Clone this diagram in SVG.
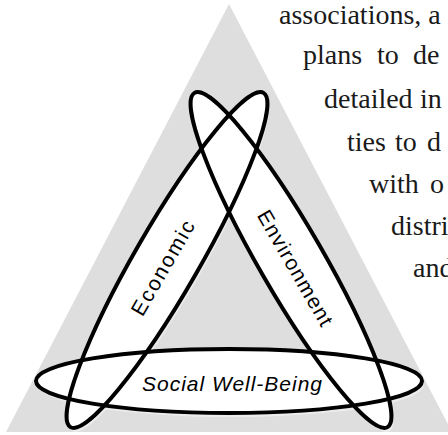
<svg xmlns="http://www.w3.org/2000/svg" width="448" height="435" viewBox="0 0 448 435">
<style>
.body{font-family:"Liberation Serif","Times New Roman",serif;font-size:28px;fill:#1a1a1a}
.lbl{font-family:"Liberation Sans",Arial,sans-serif;font-size:21px;fill:#000}
.it{font-style:italic}
.fillE{fill:#fff;stroke:none}
.shade{fill:#ececec;stroke:none}
.ring{fill:none;stroke:#000;stroke-width:4}
</style>
<defs>
<ellipse id="el" cx="0" cy="0" rx="193" ry="32"/>
</defs>
<rect width="448" height="435" fill="#fff"/>
<g id="background">
<polygon points="229,4 6,432 452,432" fill="#dedede"/>
</g>
<g id="text-column">
<text class="body" x="279" y="24">associations, a</text>
<text class="body" y="64"><tspan x="303">plans</tspan><tspan x="377">to</tspan><tspan x="413">de</tspan></text>
<text class="body" y="108"><tspan x="324">detailed</tspan><tspan x="420">in</tspan></text>
<text class="body" y="151"><tspan x="347">ties</tspan><tspan x="395">to</tspan><tspan x="427">d</tspan></text>
<text class="body" y="193"><tspan x="369">with</tspan><tspan x="430">o</tspan></text>
<text class="body" x="391" y="235">distri</text>
<text class="body" x="413" y="277">and</text>
</g>
<g id="shadows">
<use href="#el" class="shade" transform="translate(169,264) rotate(-60)"/>
<use href="#el" class="shade" transform="translate(293,264) rotate(60)"/>
<use href="#el" class="shade" transform="translate(231,385)"/>
</g>
<g id="fills">
<use href="#el" class="fillE" transform="translate(167,260) rotate(-60)"/>
<use href="#el" class="fillE" transform="translate(291,260) rotate(60)"/>
<use href="#el" class="fillE" transform="translate(229,381)"/>
</g>
<g id="economic">
<use href="#el" class="ring" transform="translate(167,260) rotate(-60)"/>
<text class="lbl" transform="translate(162.5,267.8) rotate(-60)" text-anchor="middle" dominant-baseline="central" textLength="106" lengthAdjust="spacing">Economic</text>
</g>
<g id="environment">
<use href="#el" class="ring" transform="translate(291,260) rotate(60)"/>
<text class="lbl" transform="translate(295.5,267.8) rotate(60)" text-anchor="middle" dominant-baseline="central" textLength="130" lengthAdjust="spacing">Environment</text>
</g>
<g id="social">
<use href="#el" class="ring" transform="translate(229,381)"/>
<text class="lbl it" x="232" y="391" text-anchor="middle" textLength="180" lengthAdjust="spacing">Social Well-Being</text>
</g>
</svg>
